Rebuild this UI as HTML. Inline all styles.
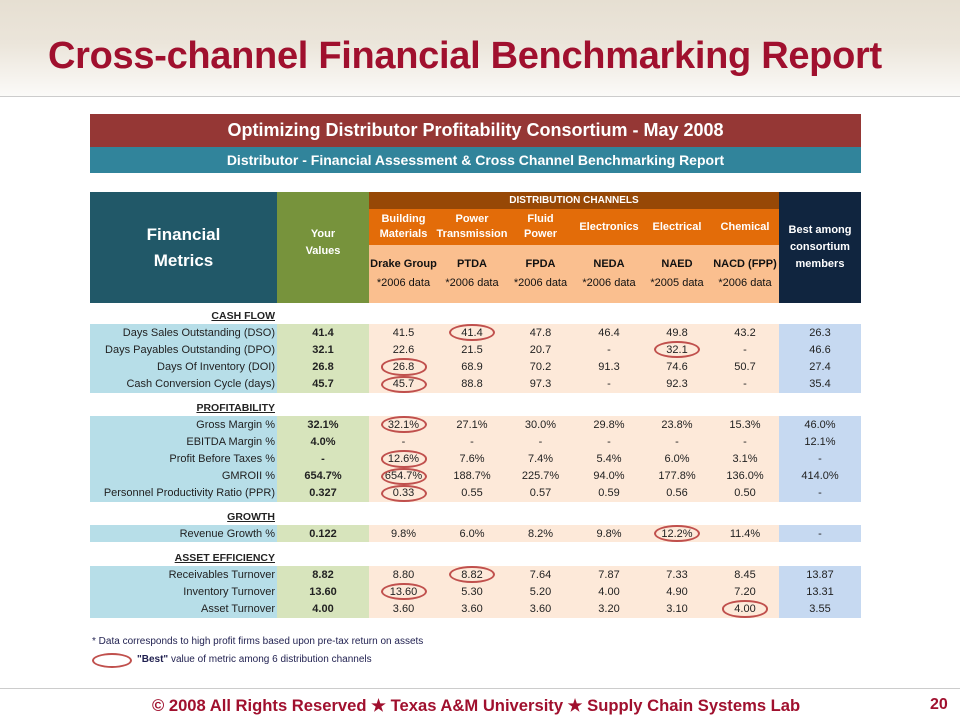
<!DOCTYPE html>
<html><head><meta charset="utf-8">
<style>
body{margin:0;width:960px;height:720px;position:relative;overflow:hidden;background:#fff;font-family:"Liberation Sans",sans-serif}
.a{position:absolute;box-sizing:border-box}
.c{display:flex;align-items:center;justify-content:center;text-align:center}
.t{font-size:11px;color:#222;white-space:nowrap}
</style></head><body>
<div class="a" style="left:0;top:0;width:960px;height:96px;background:linear-gradient(#e6dfd2 0%,#ebe5da 45%,#fbfaf8 100%)"></div>
<div class="a" style="left:0;top:96px;width:960px;height:1px;background:#ccc"></div>
<div class="a" style="left:48px;top:35px;font-size:38px;font-weight:bold;color:#a0102e;white-space:nowrap;letter-spacing:-0.3px">Cross-channel Financial Benchmarking Report</div>

<div class="a c" style="left:90px;top:114px;width:771px;height:33px;background:#953735;color:#fff;font-weight:bold;font-size:18px">Optimizing Distributor Profitability Consortium - May 2008</div>
<div class="a c" style="left:90px;top:147px;width:771px;height:26px;background:#31849b;color:#fff;font-weight:bold;font-size:14px">Distributor - Financial Assessment &amp; Cross Channel Benchmarking Report</div>

<div class="a c" style="left:90px;top:192px;width:187px;height:111px;background:#215868;color:#fff;font-weight:bold;font-size:17px;line-height:26px">Financial<br>Metrics</div>
<div class="a c" style="left:277px;top:192px;width:92px;height:111px;background:#77933c;color:#fff;font-weight:bold;font-size:11px;line-height:17px;padding-bottom:10px">Your<br>Values</div>
<div class="a c" style="left:369px;top:192px;width:410px;height:17px;background:#974806;color:#fff;font-weight:bold;font-size:10px">DISTRIBUTION CHANNELS</div>
<div class="a" style="left:369px;top:209px;width:410px;height:36px;background:#e36c09"></div>
<div class="a" style="left:369px;top:245px;width:410px;height:58px;background:#fabf8f"></div>
<div class="a c" style="left:779px;top:192px;width:82px;height:111px;background:#10253f;color:#fff;font-weight:bold;font-size:11px;line-height:17px">Best among<br>consortium<br>members</div>
<div id="tbl"></div>

<div class="a t" style="left:92px;top:636px;font-size:10px;color:#1f1f4f">* Data corresponds to high profit firms based upon pre-tax return on assets</div>
<div class="a" style="left:92px;top:653px;width:40px;height:15px;border:2px solid #c0504d;border-radius:50%"></div>
<div class="a t" style="left:137px;top:654px;font-size:10px;color:#1f1f4f"><b>"Best"</b> value of metric among 6 distribution channels</div>

<div class="a" style="left:0;top:688px;width:960px;height:1px;background:#ccc"></div>
<div class="a t" style="left:152px;top:696px;font-size:16.6px;font-weight:bold;color:#a0102e">© 2008 All Rights Reserved ★ Texas A&amp;M University ★ Supply Chain Systems Lab</div>
<div class="a t" style="left:930px;top:696px;font-size:16px;font-weight:bold;color:#a0102e">20</div>

<script>
const channels=["Building<br>Materials","Power<br>Transmission","Fluid<br>Power","Electronics","Electrical","Chemical"];
const assocs=["Drake Group","PTDA","FPDA","NEDA","NAED","NACD (FPP)"];
const years=["*2006 data","*2006 data","*2006 data","*2006 data","*2005 data","*2006 data"];
const sections=[
 {title:"CASH FLOW",y:316,rows:[
  ["Days Sales Outstanding (DSO)","41.4",["41.5","41.4","47.8","46.4","49.8","43.2"],"26.3",1],
  ["Days Payables Outstanding (DPO)","32.1",["22.6","21.5","20.7","-","32.1","-"],"46.6",4],
  ["Days Of Inventory (DOI)","26.8",["26.8","68.9","70.2","91.3","74.6","50.7"],"27.4",0],
  ["Cash Conversion Cycle (days)","45.7",["45.7","88.8","97.3","-","92.3","-"],"35.4",0]]},
 {title:"PROFITABILITY",y:408,rows:[
  ["Gross Margin %","32.1%",["32.1%","27.1%","30.0%","29.8%","23.8%","15.3%"],"46.0%",0],
  ["EBITDA Margin %","4.0%",["-","-","-","-","-","-"],"12.1%",-1],
  ["Profit Before Taxes %","-",["12.6%","7.6%","7.4%","5.4%","6.0%","3.1%"],"-",0],
  ["GMROII %","654.7%",["654.7%","188.7%","225.7%","94.0%","177.8%","136.0%"],"414.0%",0],
  ["Personnel Productivity Ratio (PPR)","0.327",["0.33","0.55","0.57","0.59","0.56","0.50"],"-",0]]},
 {title:"GROWTH",y:517,rows:[
  ["Revenue Growth %","0.122",["9.8%","6.0%","8.2%","9.8%","12.2%","11.4%"],"-",4]]},
 {title:"ASSET EFFICIENCY",y:558,rows:[
  ["Receivables Turnover","8.82",["8.80","8.82","7.64","7.87","7.33","8.45"],"13.87",1],
  ["Inventory Turnover","13.60",["13.60","5.30","5.20","4.00","4.90","7.20"],"13.31",0],
  ["Asset Turnover","4.00",["3.60","3.60","3.60","3.20","3.10","4.00"],"3.55",5]]}
];
const tbl=document.getElementById('tbl');
const colX=[369,438,506,575,643,711,779];
function box(x,y,w,h,html,style,name){
 const d=document.createElement('div');
 d.className='a c t';
 d.style.cssText=`left:${x}px;top:${y}px;width:${w}px;height:${h}px;`+style;
 d.innerHTML=html;
 
 
 tbl.appendChild(d);return d;
}
for(let i=0;i<6;i++){
 box(colX[i],209,colX[i+1]-colX[i],36,'<span>'+channels[i]+'</span>','color:#fff;font-weight:bold;line-height:15px;','channel-header');
 box(colX[i],245,colX[i+1]-colX[i],58,'<span><b>'+assocs[i]+'</b><br>'+years[i]+'</span>','color:#111;line-height:19px;','association-header');
}
const RH=17.2;
sections.forEach(s=>{
 box(90,s.y-8,187,16,'<u><b>'+s.title+'</b></u>','justify-content:flex-end;padding-right:2px;font-size:10.5px;','section-title');
 const top=s.y+8;
 const h=RH*s.rows.length;
 box(90,top,187,h,'','background:#b7dee8;','section-label-band');
 box(277,top,92,h,'','background:#d7e4bc;','section-your-band');
 box(369,top,410,h,'','background:#fde9d9;','section-channel-band');
 box(779,top,82,h,'','background:#c6d9f1;','section-best-band');
 s.rows.forEach((r,j)=>{
  const y=top+j*RH;
  box(90,y,187,RH,r[0],'justify-content:flex-end;padding-right:2px;','metric-label');
  box(277,y,92,RH,'<b>'+r[1]+'</b>','','your-value');
  r[2].forEach((v,k)=>box(colX[k],y,colX[k+1]-colX[k],RH,v,'','channel-value'));
  box(779,y,82,RH,r[3],'','best-value');
  if(r[4]>=0){
   const k=r[4];const cx=(colX[k]+colX[k+1])/2;
   box(cx-23,y,46,RH,'','border:2px solid #c0504d;border-radius:50%;','best-ellipse');
  }
 });
});
</script>
</body></html>
